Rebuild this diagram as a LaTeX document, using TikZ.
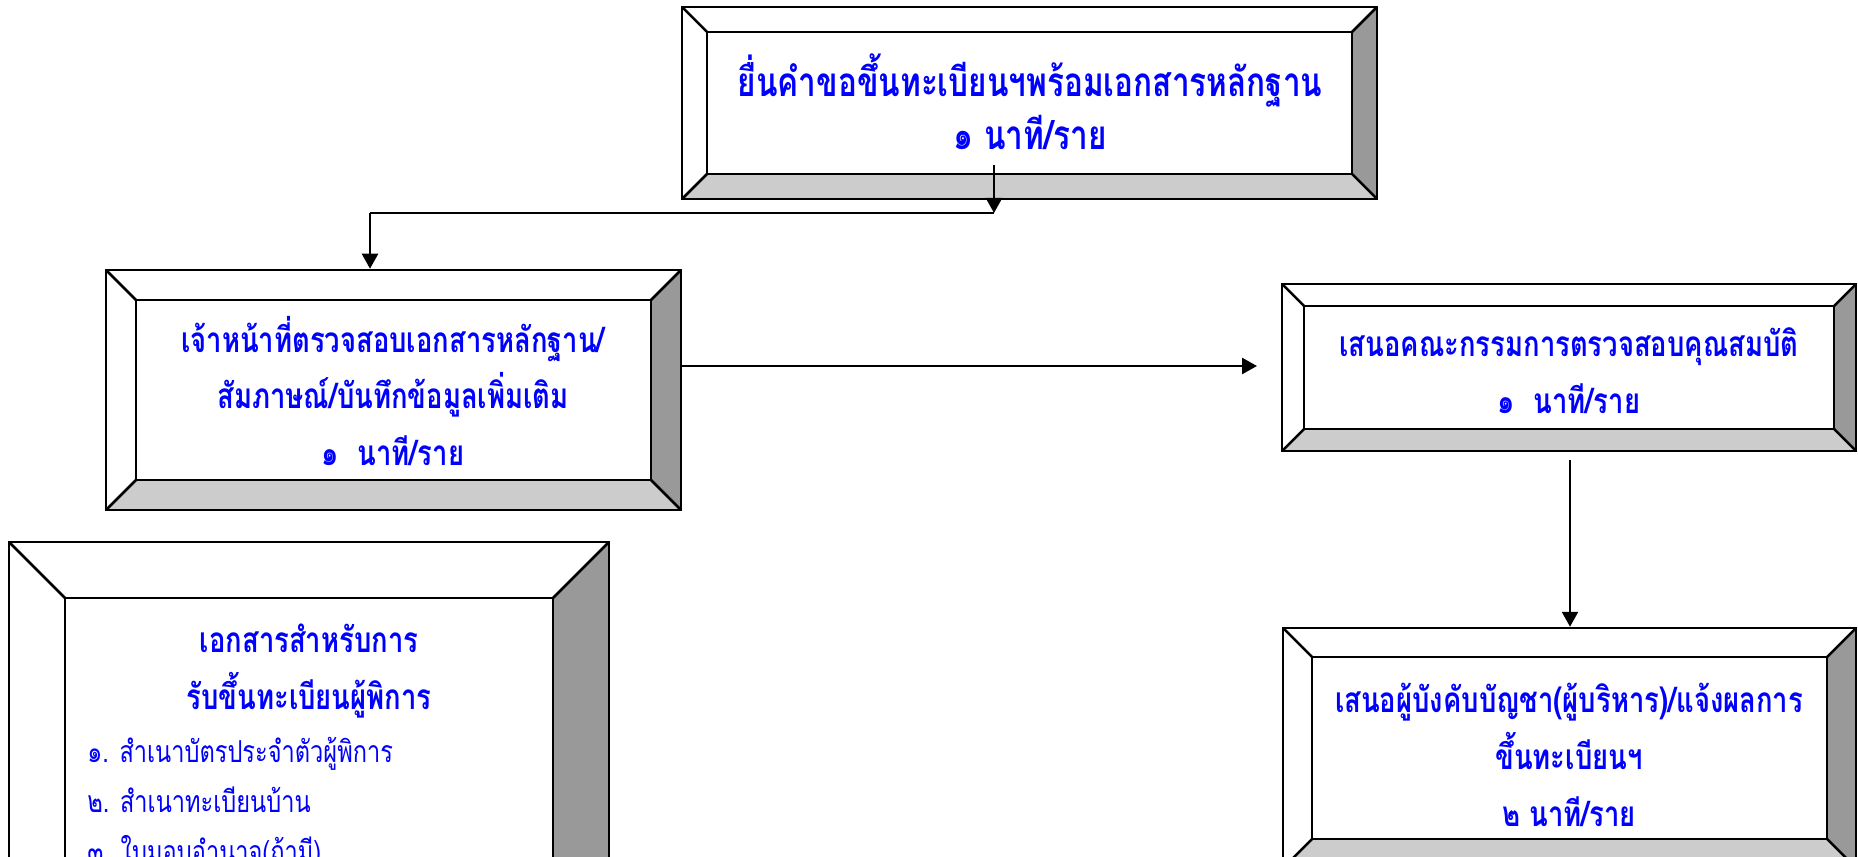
\documentclass[tikz,border=0pt]{standalone}
\usepackage{fontspec}
\usetikzlibrary{arrows.meta}
\newfontfamily\thaifont[Script=Thai, FakeStretch=0.78]{Loma}
\definecolor{textBlue}{RGB}{0,0,255}
\definecolor{bevelDark}{RGB}{153,153,153}
\definecolor{bevelLight}{RGB}{204,204,204}

% กรอบนูน: ด้านขวาเทาเข้ม ด้านล่างเทาอ่อน
\newcommand\bevelpaint[1]{%
  \coordinate (pNW) at (path picture bounding box.north west);
  \coordinate (pNE) at (path picture bounding box.north east);
  \coordinate (pSE) at (path picture bounding box.south east);
  \coordinate (pSW) at (path picture bounding box.south west);
  \coordinate (qNW) at ([shift={(#1,-#1)}]pNW);
  \coordinate (qNE) at ([shift={(-#1,-#1)}]pNE);
  \coordinate (qSE) at ([shift={(-#1,#1)}]pSE);
  \coordinate (qSW) at ([shift={(#1,#1)}]pSW);
  \fill[bevelDark] (pNE) -- (pSE) -- (qSE) -- (qNE) -- cycle;
  \fill[bevelLight] (pSW) -- (pSE) -- (qSE) -- (qSW) -- cycle;
  \draw[line width=0.25mm] (qNW) rectangle (qSE);
  \draw[line width=0.25mm] (pNW) -- (qNW) (pNE) -- (qNE) (pSE) -- (qSE) (pSW) -- (qSW);
}

\begin{document}
\begin{tikzpicture}[x=0.1mm, y=-0.1mm,
    framebox/.style={draw, fill=white, line width=0.25mm, inner sep=0pt,
      path picture={\bevelpaint{#1}}},
    boxtext/.style={font=\thaifont\bfseries\fontsize{10}{16.2}\selectfont,
      text=textBlue, align=center},
    bigtext/.style={boxtext, font=\thaifont\bfseries\fontsize{11.5}{15}\selectfont},
    listtext/.style={font=\thaifont\fontsize{8.6}{14.2}\selectfont,
      text=textBlue, align=left},
    flow/.style={line width=0.25mm, -{Triangle[length=1.5mm, width=1.6mm]}},
    link/.style={line width=0.25mm}]
  \useasboundingbox (0,0) rectangle (1858,857);
  \clip (0,0) rectangle (1858,857);

  % ยื่นคำขอ
  \node[framebox=2.5mm, minimum width=69.5mm, minimum height=19.2mm] (b1) at (1029.5,103) {};
  \node[bigtext] (t1) at (1030,102) {ยื่นคำขอขึ้นทะเบียนฯพร้อมเอกสารหลักฐาน\\๑ นาที/ราย};

  % เจ้าหน้าที่ตรวจสอบ
  \node[framebox=3mm, minimum width=57.5mm, minimum height=24mm] (b2) at (393.5,390) {};
  \node[boxtext] (t2) at (393,391) {เจ้าหน้าที่ตรวจสอบเอกสารหลักฐาน/\\สัมภาษณ์/บันทึกข้อมูลเพิ่มเติม\\๑\ \ นาที/ราย};

  % คณะกรรมการ
  \node[framebox=2.2mm, minimum width=57.4mm, minimum height=16.7mm] (b3) at (1569,367.5) {};
  \node[boxtext] (t3) at (1569,371) {เสนอคณะกรรมการตรวจสอบคุณสมบัติ\\๑\ \ นาที/ราย};

  % ผู้บังคับบัญชา
  \node[framebox=2.9mm, minimum width=57.3mm, minimum height=24mm] (b4) at (1569.5,748) {};
  \node[boxtext] (t4) at (1569,755) {เสนอผู้บังคับบัญชา(ผู้บริหาร)/แจ้งผลการ\\ขึ้นทะเบียนฯ\\๒ นาที/ราย};

  % เอกสารประกอบ
  \node[framebox=5.6mm, minimum width=60mm, minimum height=42mm] (b5) at (309,752) {};
  \node[boxtext] (t5) at (309,671) {เอกสารสำหรับการ\\รับขึ้นทะเบียนผู้พิการ};
  \node[listtext, anchor=west] (l5) at (75,803) {๑. สำเนาบัตรประจำตัวผู้พิการ\\๒. สำเนาทะเบียนบ้าน\\๓. ใบมอบอำนาจ(ถ้ามี)};

  % ลูกศร
  \coordinate (k1) at (994,165);
  \coordinate (k2) at (994,213);
  \coordinate (k3) at (370,213);
  \draw[flow] (k1) -- (k2);
  \draw[link] (k2) -- (k3);
  \draw[flow] (k3) -- (k3 |- b2.north);

  \coordinate (k4) at (1257,366);
  \draw[flow] (k4 -| b2.east) -- (k4);

  \coordinate (k5) at (1570,460);
  \draw[flow] (k5) -- (k5 |- b4.north);
\end{tikzpicture}
\end{document}
